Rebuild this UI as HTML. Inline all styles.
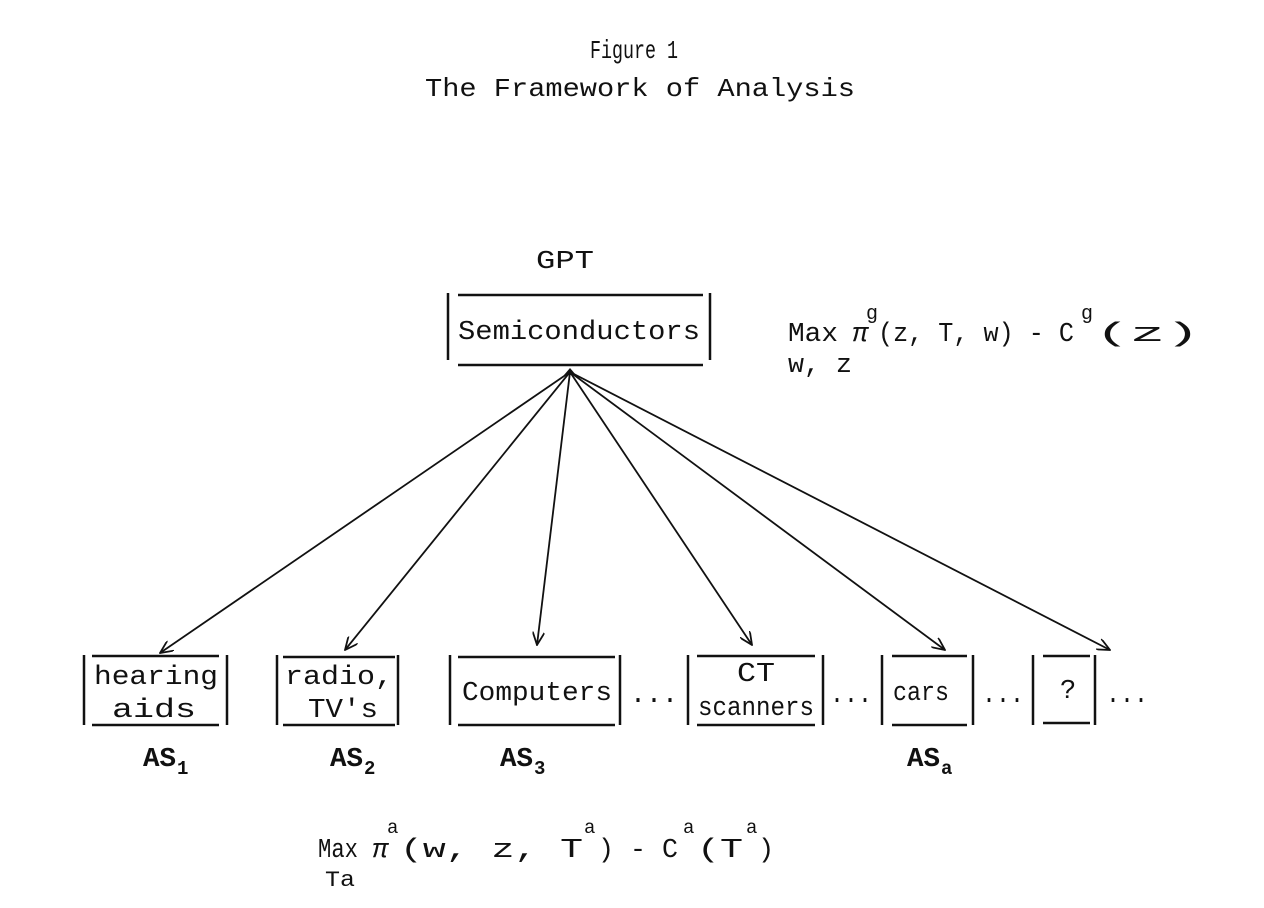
<!DOCTYPE html>
<html><head><meta charset="utf-8"><style>
html,body{margin:0;padding:0;background:#fff;}
svg{display:block;}
text{font-family:"Liberation Mono",monospace;fill:#111;}
</style></head><body>
<svg width="1264" height="908" viewBox="0 0 1264 908" xmlns="http://www.w3.org/2000/svg">
<defs><marker id="a" markerWidth="14" markerHeight="12" refX="13" refY="6" orient="auto" markerUnits="userSpaceOnUse"><path d="M0,0 L13,6 L0,12" fill="none" stroke="#111" stroke-width="1.8"/></marker></defs>
<g font-size="26">
<text x="590" y="58" textLength="88" lengthAdjust="spacingAndGlyphs">Figure 1</text>
<text x="425" y="96" textLength="430" lengthAdjust="spacingAndGlyphs">The Framework of Analysis</text>
<text x="536" y="268" textLength="58" lengthAdjust="spacingAndGlyphs">GPT</text>
</g>
<g stroke="#111" stroke-width="2.5" fill="none">
<path d="M448,293V360M710,293V360M458,295H703M458,365H703"/>
<path d="M84,655V725M227,655V725M92,656H219M92,725H219"/>
<path d="M277,655V725M398,655V725M283,657H395M283,725H395"/>
<path d="M450,655V725M620,655V725M458,657H615M458,725H615"/>
<path d="M688,655V725M823,655V725M697,656H815M697,725H815"/>
<path d="M882,655V725M973,655V725M892,656H967M892,725H967"/>
<path d="M1033,655V725M1095,655V725M1043,656H1090M1043,723H1090"/>
</g>
<g stroke="#111" stroke-width="1.8" fill="none" marker-end="url(#a)">
<line x1="570" y1="372" x2="160" y2="653"/>
<line x1="570" y1="372" x2="345" y2="650"/>
<line x1="570" y1="372" x2="537" y2="645"/>
<line x1="570" y1="372" x2="752" y2="645"/>
<line x1="570" y1="372" x2="945" y2="650"/>
<line x1="570" y1="372" x2="1110" y2="650"/>
</g>
<path d="M564,375 L570,368 L576,375Z" fill="#111"/>
<g font-size="27">
<text x="458" y="339" textLength="242" lengthAdjust="spacingAndGlyphs">Semiconductors</text>
<text x="788" y="341" textLength="50" lengthAdjust="spacingAndGlyphs">Max</text>
<text x="852" y="341" font-style="italic">π</text>
<text x="866" y="319" font-size="20">g</text>
<text x="878" y="341" textLength="196" lengthAdjust="spacingAndGlyphs">(z, T, w) - C</text>
<text x="1081" y="319" font-size="20">g</text>
<text x="1095" y="341" textLength="105" lengthAdjust="spacingAndGlyphs">(z)</text>
<text x="788" y="372" textLength="64" lengthAdjust="spacingAndGlyphs">w, z</text>
<text x="94" y="684" textLength="124" lengthAdjust="spacingAndGlyphs">hearing</text>
<text x="112" y="717" textLength="84" lengthAdjust="spacingAndGlyphs">aids</text>
<text x="285" y="684" textLength="108" lengthAdjust="spacingAndGlyphs">radio,</text>
<text x="308" y="717" textLength="70" lengthAdjust="spacingAndGlyphs">TV's</text>
<text x="462" y="700" textLength="150" lengthAdjust="spacingAndGlyphs">Computers</text>
<text x="737" y="681" textLength="38" lengthAdjust="spacingAndGlyphs">CT</text>
<text x="698" y="715" textLength="116" lengthAdjust="spacingAndGlyphs">scanners</text>
<text x="893" y="700" textLength="56" lengthAdjust="spacingAndGlyphs">cars</text>
<text x="1060" y="698">?</text>
<text x="630" y="702" textLength="48" lengthAdjust="spacingAndGlyphs">...</text>
<text x="830" y="702" textLength="42" lengthAdjust="spacingAndGlyphs">...</text>
<text x="982" y="702" textLength="42" lengthAdjust="spacingAndGlyphs">...</text>
<text x="1106" y="702" textLength="42" lengthAdjust="spacingAndGlyphs">...</text>
<text x="143" y="766" font-weight="bold" textLength="33" lengthAdjust="spacingAndGlyphs">AS</text><text x="177" y="774" font-size="19" font-weight="bold">1</text>
<text x="330" y="766" font-weight="bold" textLength="33" lengthAdjust="spacingAndGlyphs">AS</text><text x="364" y="774" font-size="19" font-weight="bold">2</text>
<text x="500" y="766" font-weight="bold" textLength="33" lengthAdjust="spacingAndGlyphs">AS</text><text x="534" y="774" font-size="19" font-weight="bold">3</text>
<text x="907" y="766" font-weight="bold" textLength="33" lengthAdjust="spacingAndGlyphs">AS</text><text x="941" y="774" font-size="19" font-weight="bold">a</text>
<text x="318" y="857" textLength="40" lengthAdjust="spacingAndGlyphs">Max</text>
<text x="372" y="857" font-style="italic">π</text>
<text x="387" y="833" font-size="19">a</text>
<text x="400" y="857" textLength="183" lengthAdjust="spacingAndGlyphs">(w, z, T</text>
<text x="584" y="833" font-size="19">a</text>
<text x="598" y="857" textLength="80" lengthAdjust="spacingAndGlyphs">) - C</text>
<text x="683" y="833" font-size="19">a</text>
<text x="697" y="857" textLength="46" lengthAdjust="spacingAndGlyphs">(T</text>
<text x="746" y="833" font-size="19">a</text>
<text x="758" y="857">)</text>
<text x="325" y="886" font-size="22" textLength="30" lengthAdjust="spacingAndGlyphs">Ta</text>
</g>
</svg>
</body></html>
